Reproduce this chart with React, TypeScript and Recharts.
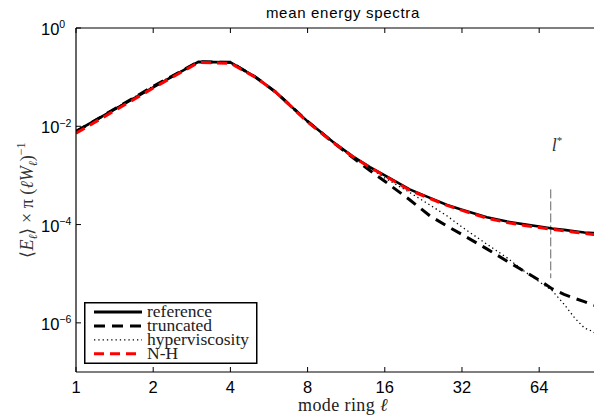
import { LineChart, Line, XAxis, YAxis, Legend, ReferenceLine } from "recharts";

// mode ring index and mean spectra for each run
const ells = [1, 2, 3, 4, 5, 6, 8, 10, 12, 14, 16, 20, 24, 28, 32, 40, 48, 56, 64, 72, 80, 88, 96, 104, 112];
const reference = [
  7.9e-3, 6.2e-2, 0.204, 0.2, 0.102, 0.05, 1.26e-2, 4.9e-3, 2.45e-3, 1.48e-3, 1.0e-3, 5.2e-4, 3.5e-4,
  2.5e-4, 2.0e-4, 1.41e-4, 1.15e-4, 1.01e-4, 9.1e-5, 8.3e-5, 7.8e-5, 7.3e-5, 6.9e-5, 6.7e-5, 6.5e-5,
];
const truncated = [
  7.8e-3, 6.5e-2, 0.206, 0.2, 0.101, 0.05, 1.26e-2, 4.8e-3, 2.3e-3, 1.26e-3, 7.6e-4, 3.2e-4, 1.5e-4,
  9.3e-5, 6.3e-5, 3.2e-5, 1.8e-5, 1.12e-5, 7.4e-6, 4.9e-6, 3.8e-6, 3.16e-6, 2.7e-6, 2.3e-6, 2.05e-6,
];
const hyperviscosity = [
  7.8e-3, 6.6e-2, 0.205, 0.2, 0.102, 0.05, 1.26e-2, 4.9e-3, 2.4e-3, 1.41e-3, 8.9e-4, 4.5e-4, 2.5e-4,
  1.5e-4, 8.9e-5, 4.0e-5, 2.1e-5, 1.12e-5, 6.9e-6, 4.5e-6, 2.4e-6, 1.26e-6, 7.9e-7, 6.6e-7, 4.7e-7,
];
const nh = [
  7.2e-3, 6.0e-2, 0.198, 0.192, 0.1, 0.05, 1.22e-2, 4.8e-3, 2.4e-3, 1.46e-3, 9.8e-4, 5.0e-4, 3.4e-4,
  2.45e-4, 1.95e-4, 1.35e-4, 1.1e-4, 9.6e-5, 8.7e-5, 8.0e-5, 7.5e-5, 7.0e-5, 6.6e-5, 6.3e-5, 6.1e-5,
];

const xTicks = [1, 2, 4, 8, 16, 32, 64];
const yTicks = [1e-6, 1e-4, 1e-2, 1];
const lStar = 71;
const lStarSpan = [5.2e-4, 8.1e-6];

const seriesKeys = ["reference", "truncated", "hyperviscosity", "nh"];
const seriesNames = ["reference", "truncated", "hyperviscosity", "N-H"];

const rows = ells.map((ell, i) => ({
  ell,
  reference: reference[i],
  truncated: truncated[i],
  hyperviscosity: hyperviscosity[i],
  nh: nh[i],
}));

const lineStyle: Record<string, { stroke: string; strokeWidth: number; strokeDasharray?: string }> = {
  reference: { stroke: "#000", strokeWidth: 2.6 },
  truncated: { stroke: "#000", strokeWidth: 3, strokeDasharray: "11 7" },
  hyperviscosity: { stroke: "#000", strokeWidth: 1.3, strokeDasharray: "1.3 3" },
  nh: { stroke: "#ff0000", strokeWidth: 3, strokeDasharray: "10 6" },
};

const SANS = "'Liberation Sans', Arial, Helvetica, sans-serif";
const SERIF = "'Liberation Serif', 'Times New Roman', serif";

const BottomTick = (props: any) => {
  const { x, y, payload } = props;
  return (
    <g>
      <line x1={x} y1={y} x2={x} y2={y - 5} stroke="#000" strokeWidth={1} />
      <text x={x} y={y + 20.5} textAnchor="middle" fontFamily={SANS} fontSize={16.5} fill="#000">
        {payload.value}
      </text>
    </g>
  );
};

const TopTick = (props: any) => {
  const { x, y } = props;
  return <line x1={x} y1={y} x2={x} y2={y + 5} stroke="#000" strokeWidth={1} />;
};

const LeftTick = (props: any) => {
  const { x, y, payload } = props;
  const exp = Math.round(Math.log10(payload.value));
  return (
    <g>
      <line x1={x} y1={y} x2={x + 5} y2={y} stroke="#000" strokeWidth={1} />
      <text x={x - 35} y={y + 7} fontFamily={SANS} fontSize={16.5} fill="#000">
        10
        <tspan fontSize={10.5} dy={-6.7}>
          {exp < 0 ? "\u2212" + Math.abs(exp) : String(exp)}
        </tspan>
      </text>
    </g>
  );
};

const Title = (props: any) => {
  const vb = props.viewBox || { x: 76, y: 28, width: 526 };
  return (
    <text x={vb.x + vb.width / 2 + 4} y={vb.y - 9} textAnchor="middle" fontFamily={SANS} fontSize={15} letterSpacing={0.7} fill="#000">
      mean energy spectra
    </text>
  );
};

const XTitle = (props: any) => {
  const vb = props.viewBox || { x: 76, y: 372, width: 526 };
  return (
    <text x={vb.x + vb.width / 2 + 4} y={vb.y + 39} textAnchor="middle" fontFamily={SERIF} fontSize={18} letterSpacing={0.4} fill="#222">
      mode ring <tspan fontStyle="italic">ℓ</tspan>
    </text>
  );
};

const YTitle = (props: any) => {
  const vb = props.viewBox || { x: 0, y: 28, height: 344 };
  const cy = vb.y + vb.height / 2;
  return (
    <text transform={`translate(33,${cy}) rotate(-90)`} textAnchor="middle" fontFamily={SERIF} fontSize={18} fill="#333">
      <tspan>⟨</tspan>
      <tspan fontStyle="italic">E</tspan>
      <tspan fontStyle="italic" fontSize={12} dy={4}>ℓ</tspan>
      <tspan dy={-4}>⟩ × π (</tspan>
      <tspan fontStyle="italic">ℓW</tspan>
      <tspan fontStyle="italic" fontSize={12} dy={4}>ℓ</tspan>
      <tspan dy={-4}>)</tspan>
      <tspan fontSize={12} dy={-8}>−1</tspan>
    </text>
  );
};

const LStarLabel = (props: any) => {
  const vb = props.viewBox || { x: 550, y: 190 };
  return (
    <text x={vb.x + 1} y={vb.y - 38} fontFamily={SERIF} fontSize={18} fill="#333">
      <tspan fontStyle="italic">l</tspan>
      <tspan fontSize={11} dy={-7}>*</tspan>
    </text>
  );
};

const LegendBox = () => (
  <svg width={174} height={63} style={{ display: "block" }}>
    <rect x={0.75} y={0.75} width={172} height={60.5} fill="#fff" stroke="#000" strokeWidth={1.5} />
    {seriesKeys.map((k, i) => {
      const base = 15 + i * 13.9;
      const st = lineStyle[k];
      return (
        <g key={k}>
          <line x1={10} x2={58} y1={base - 5} y2={base - 5} {...st} strokeWidth={k === "hyperviscosity" ? 1.3 : 3} />
          <text x={63} y={base} fontFamily={SERIF} fontSize={17.5} fill="#222">
            {seriesNames[i]}
          </text>
        </g>
      );
    })}
  </svg>
);

export default function App() {
  return (
    <div style={{ marginTop: -8, marginLeft: -8, width: 602, height: 420, background: "#fff" }}>
      <LineChart width={602} height={420} data={rows} margin={{ top: 27, right: 0, bottom: 0, left: 0 }}>
        <XAxis
          dataKey="ell"
          type="number"
          scale="log"
          domain={[1, 112.5]}
          allowDataOverflow
          ticks={xTicks}
          interval={0}
          height={48}
          tickSize={0}
          tickMargin={0}
          tickLine={false}
          tick={(p: any) => <BottomTick {...p} />}
          axisLine={{ stroke: "#000", strokeWidth: 1.2 }}
          label={{ content: (p: any) => <XTitle {...p} /> }}
        />
        <XAxis
          xAxisId="top"
          orientation="top"
          dataKey="ell"
          type="number"
          scale="log"
          domain={[1, 112.5]}
          allowDataOverflow
          ticks={xTicks}
          interval={0}
          height={1}
          tickSize={0}
          tickMargin={0}
          tickLine={false}
          tick={(p: any) => <TopTick {...p} />}
          axisLine={{ stroke: "#000", strokeWidth: 1.2 }}
          label={{ content: (p: any) => <Title {...p} /> }}
        />
        <YAxis
          type="number"
          scale="log"
          domain={[1e-7, 1]}
          allowDataOverflow
          ticks={yTicks}
          interval={0}
          width={76}
          tickSize={0}
          tickMargin={0}
          tickLine={false}
          tick={(p: any) => <LeftTick {...p} />}
          axisLine={{ stroke: "#000", strokeWidth: 1.2 }}
          label={{ content: (p: any) => <YTitle {...p} /> }}
        />
        <ReferenceLine
          segment={[
            { x: lStar, y: lStarSpan[0] },
            { x: lStar, y: lStarSpan[1] },
          ]}
          stroke="#666"
          strokeWidth={1}
          strokeDasharray="9 3"
          label={{ content: (p: any) => <LStarLabel {...p} /> }}
        />
        {seriesKeys.map((k, i) => (
          <Line
            key={k}
            type="linear"
            dataKey={k}
            name={seriesNames[i]}
            dot={false}
            activeDot={false}
            isAnimationActive={false}
            {...lineStyle[k]}
          />
        ))}
        <Legend
          layout="vertical"
          align="center"
          verticalAlign="middle"
          wrapperStyle={{ left: 84, top: 302, width: 174, height: 63 }}
          content={() => <LegendBox />}
        />
      </LineChart>
    </div>
  );
}
